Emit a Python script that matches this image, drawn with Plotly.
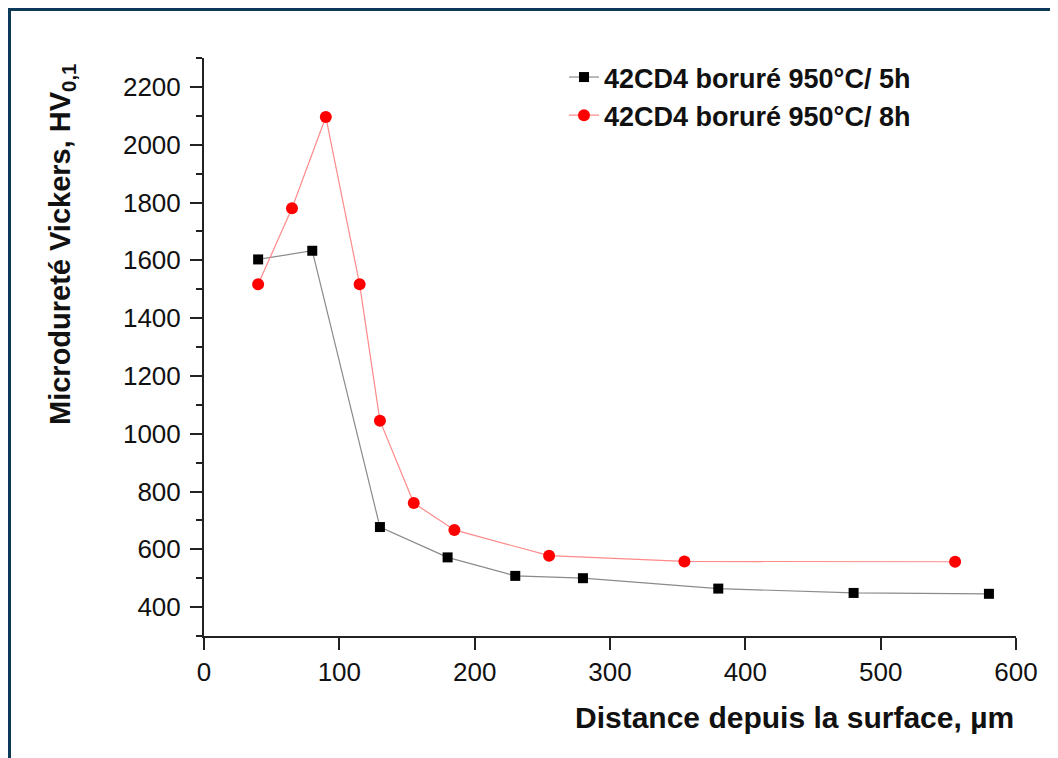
import plotly.graph_objects as go

x_5h = [40, 80, 130, 180, 230, 280, 380, 480, 580]
y_5h = [1603, 1633, 677, 572, 508, 500, 464, 449, 446]

x_8h = [40, 65, 90, 115, 130, 155, 185, 255, 355, 555]
y_8h = [1517, 1780, 2096, 1517, 1045, 760, 667, 578, 558, 557]

name_5h = "42CD4 boruré 950°C/ 5h"
name_8h = "42CD4 boruré 950°C/ 8h"

x_title = "Distance depuis la surface, µm"
y_title = "Microdureté Vickers, HV<sub>0,1</sub>"

x_ticks = [0, 100, 200, 300, 400, 500, 600]
y_ticks = [400, 600, 800, 1000, 1200, 1400, 1600, 1800, 2000, 2200]
y_minor = [300, 500, 700, 900, 1100, 1300, 1500, 1700, 1900, 2100, 2300]

FONT = "Arial, Liberation Sans, sans-serif"

fig = go.Figure()
fig.add_trace(go.Scatter(
    x=x_5h, y=y_5h, mode="lines+markers", name=name_5h,
    line=dict(color="#8a8a8a", width=1.2),
    marker=dict(symbol="square", size=10, color="black"),
))
fig.add_trace(go.Scatter(
    x=x_8h, y=y_8h, mode="lines+markers", name=name_8h,
    line=dict(color="#ff8a8a", width=1.2),
    marker=dict(symbol="circle", size=12, color="#ff0000"),
))

# page has an 8px body margin; figure coords = page coords - 8
W, H = 1050, 750
L, R, T, B = 196, 42, 50, 122
pw, ph = W - L - R, H - T - B

def px_x(p):  # page pixel -> paper x
    return (p - 8 - L) / pw

def px_y(p):  # page pixel -> paper y
    return (H - B - (p - 8)) / ph

fig.update_layout(
    width=W, height=H,
    margin=dict(l=L, r=R, t=T, b=B),
    paper_bgcolor="white", plot_bgcolor="white",
    font=dict(family=FONT, color="#111111", size=26),
    showlegend=True,
    legend=dict(
        x=px_x(564), y=px_y(53), xanchor="left", yanchor="top",
        font=dict(family=FONT, size=27, color="#111111", weight="bold"),
        bgcolor="rgba(0,0,0,0)", tracegroupgap=0,
    ),
    xaxis=dict(
        range=[0, 600], tickvals=x_ticks,
        showgrid=False, zeroline=False,
        showline=True, linecolor="#222222", linewidth=2,
        ticks="outside", ticklen=12, tickwidth=2, tickcolor="#222222",
        tickfont=dict(family=FONT, size=26, color="#111111"),
    ),
    yaxis=dict(
        range=[300, 2300], tickvals=y_ticks,
        showgrid=False, zeroline=False,
        showline=True, linecolor="#222222", linewidth=2,
        ticks="outside", ticklen=12, tickwidth=2, tickcolor="#222222",
        ticklabelstandoff=4,
        minor=dict(tickvals=y_minor,
                   ticks="outside", ticklen=6, tickwidth=2, tickcolor="#222222", showgrid=False),
        tickfont=dict(family=FONT, size=26, color="#111111"),
    ),
    annotations=[
        dict(text=x_title, xref="paper", yref="paper",
             x=px_x(1016), y=px_y(717), xanchor="right", yanchor="middle",
             showarrow=False, font=dict(family=FONT, size=30, weight="bold", color="#111111")),
        dict(text=y_title, xref="paper", yref="paper",
             x=px_x(62), y=px_y(245), xanchor="center", yanchor="middle", textangle=-90,
             showarrow=False, font=dict(family=FONT, size=29, weight="bold", color="#111111")),
    ],
    shapes=[
        dict(type="rect", xref="paper", yref="paper",
             x0=px_x(9), x1=px_x(1058 + 30), y0=px_y(758 + 30), y1=px_y(9),
             line=dict(color="#0d3a58", width=4), fillcolor="rgba(0,0,0,0)", layer="above"),
    ],
)

fig.write_html("out.html")
